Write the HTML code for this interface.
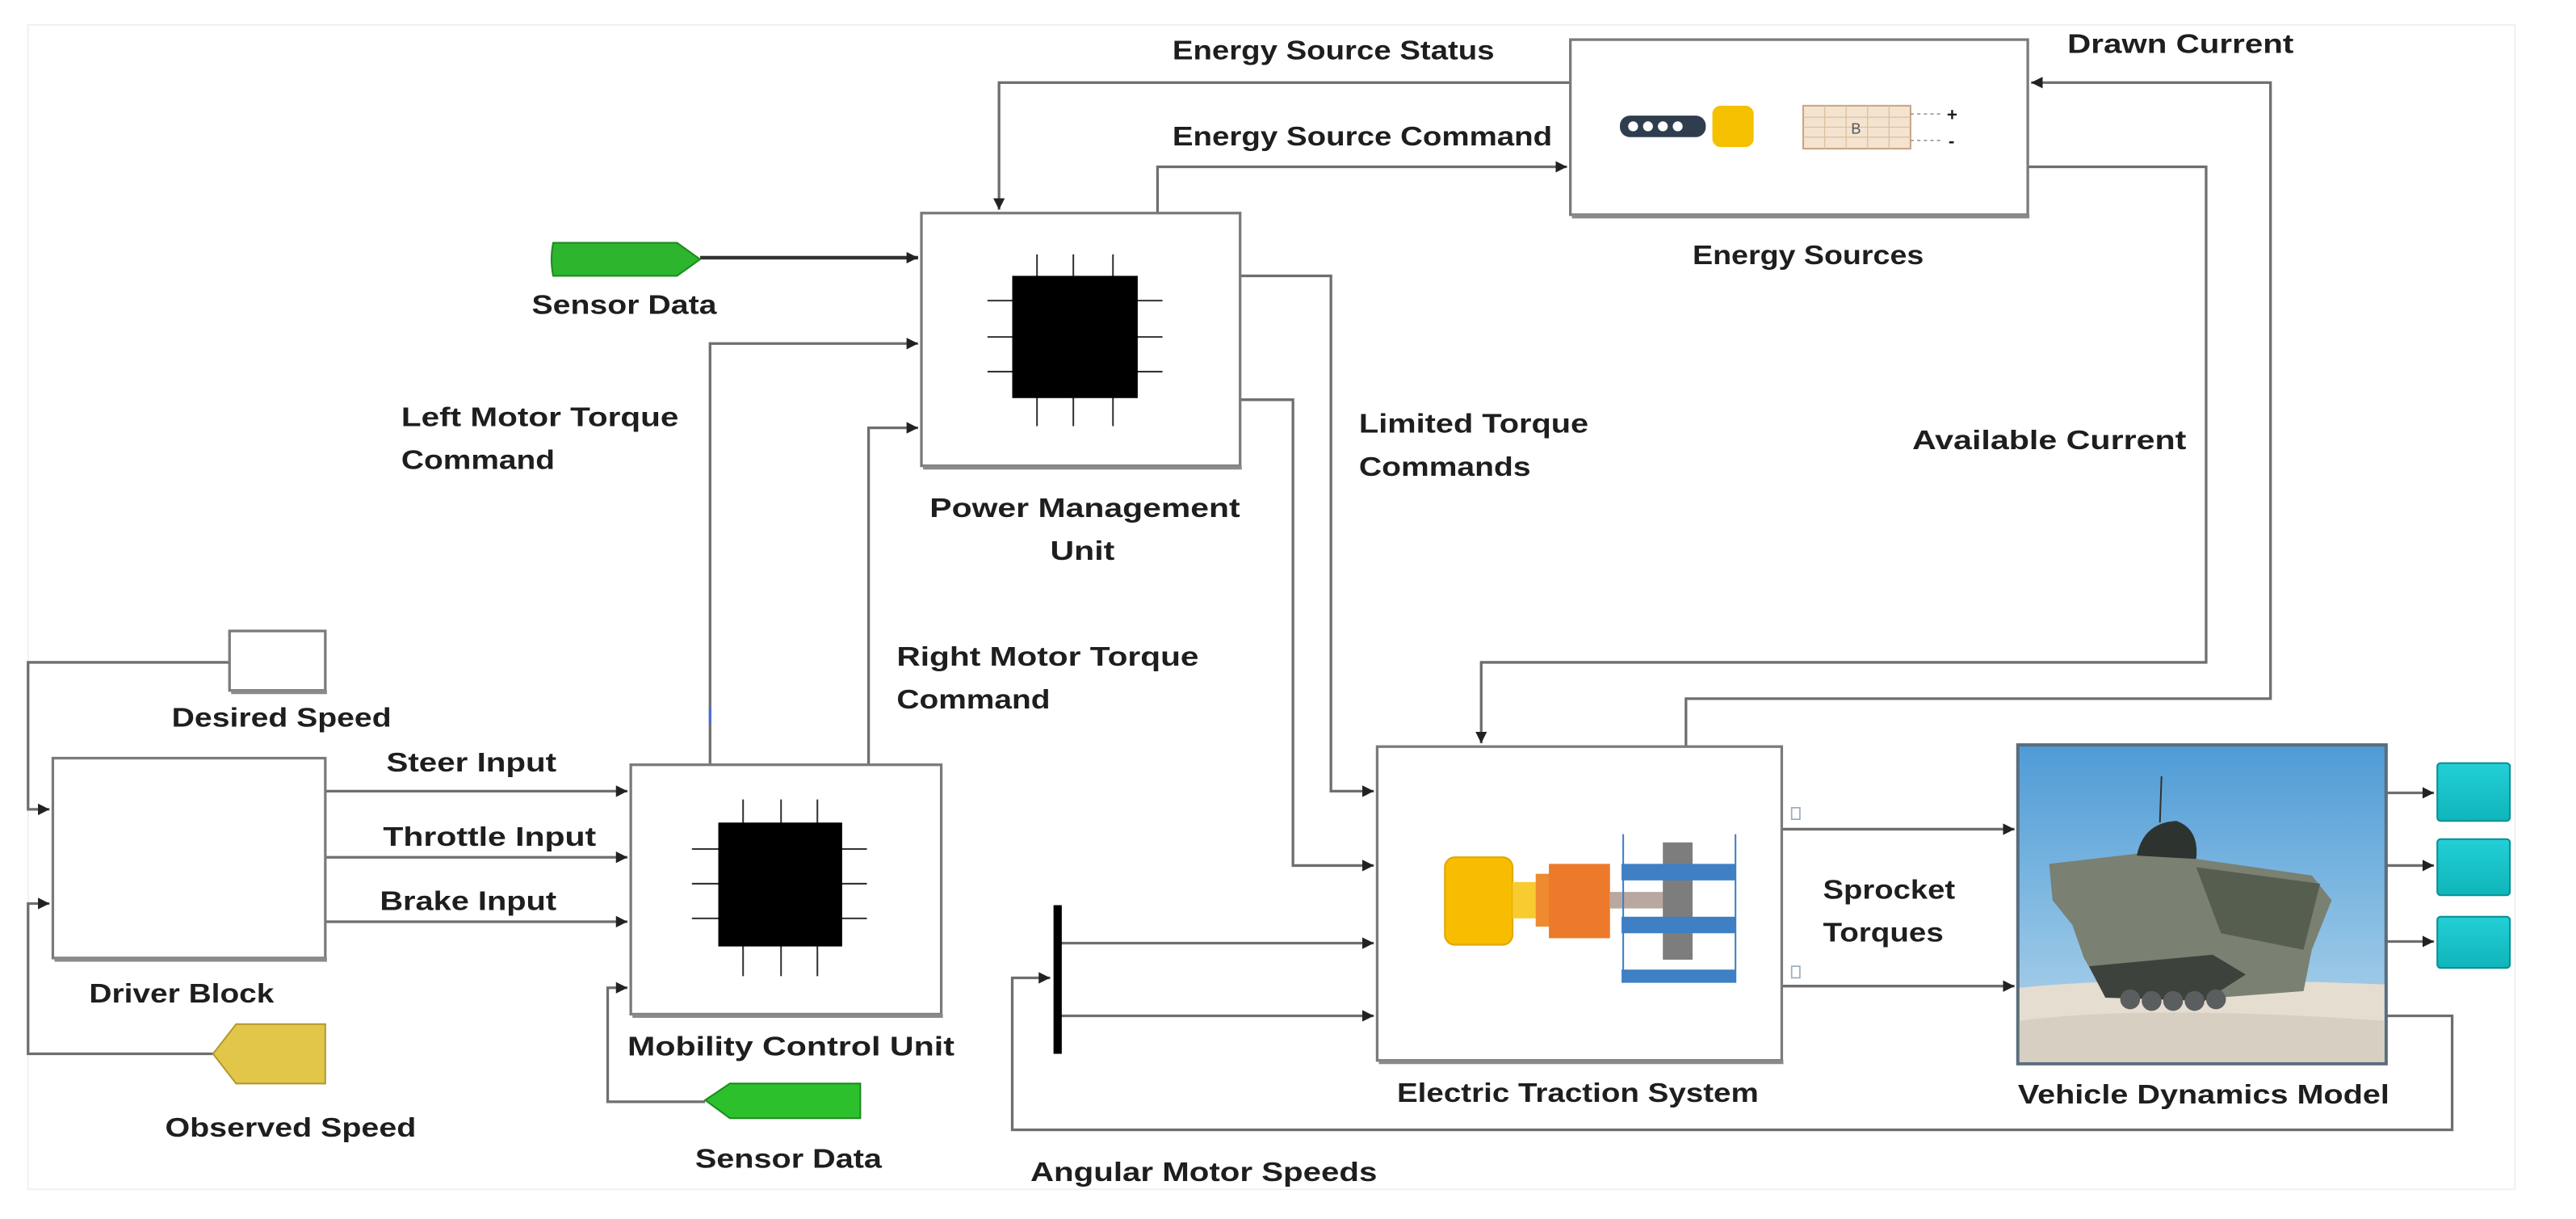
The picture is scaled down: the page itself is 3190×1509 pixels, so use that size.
<!DOCTYPE html>
<html><head><meta charset="utf-8">
<style>
html,body{margin:0;padding:0;background:#fff;}
svg{display:block;}
text{font-family:"Liberation Sans",sans-serif;font-weight:bold;font-size:16.5px;fill:#1e1e1e;}
</style></head>
<body>
<svg width="3190" height="1509" viewBox="0 0 1560 738" preserveAspectRatio="none" xmlns="http://www.w3.org/2000/svg">
<defs>
<marker id="a" markerWidth="8" markerHeight="8" refX="7" refY="4" orient="auto" markerUnits="userSpaceOnUse">
<path d="M0,0.5 L7,4 L0,7.5 z" fill="#222"/></marker>
<linearGradient id="sky" x1="0" y1="0" x2="0" y2="1">
<stop offset="0" stop-color="#4f9bd6"/><stop offset="0.6" stop-color="#8cc0e4"/><stop offset="1" stop-color="#b9d6ea"/></linearGradient>
<linearGradient id="cy" x1="0" y1="0" x2="0" y2="1"><stop offset="0" stop-color="#22d0d6"/><stop offset="1" stop-color="#0fb5ba"/></linearGradient>
</defs>
<rect x="17" y="15" width="1506" height="705" fill="none" stroke="#f0f0f0" stroke-width="1"/>

<g fill="none" stroke="#6e6e6e" stroke-width="1.6">
<polyline points="951,50 605,50 605,127" marker-end="url(#a)"/>
<polyline points="701,129 701,101 949,101" marker-end="url(#a)"/>
<line x1="424" y1="156" x2="556" y2="156" stroke="#333" stroke-width="2.2" marker-end="url(#a)"/>
<polyline points="430,463 430,208 556,208" marker-end="url(#a)"/>
<polyline points="526,463 526,259 556,259" marker-end="url(#a)"/>
<polyline points="751,167 806,167 806,479 832,479" marker-end="url(#a)"/>
<polyline points="751,242 783,242 783,524 832,524" marker-end="url(#a)"/>
<polyline points="1228,101 1336,101 1336,401 897,401 897,450" marker-end="url(#a)"/>
<polyline points="1021,452 1021,423 1375,423 1375,50 1230,50" marker-end="url(#a)"/>
<polyline points="139,401 17,401 17,490 30,490" marker-end="url(#a)"/>
<polyline points="129,638 17,638 17,547 30,547" marker-end="url(#a)"/>
<line x1="197" y1="479" x2="380" y2="479" marker-end="url(#a)"/>
<line x1="197" y1="519" x2="380" y2="519" marker-end="url(#a)"/>
<line x1="197" y1="558" x2="380" y2="558" marker-end="url(#a)"/>
<polyline points="427,667 368,667 368,598 380,598" marker-end="url(#a)"/>
<line x1="642" y1="571" x2="832" y2="571" marker-end="url(#a)"/>
<line x1="642" y1="615" x2="832" y2="615" marker-end="url(#a)"/>
<polyline points="1445,615 1485,615 1485,684 613,684 613,592 636,592" marker-end="url(#a)"/>
<line x1="1079" y1="502" x2="1220" y2="502" marker-end="url(#a)"/>
<line x1="1079" y1="597" x2="1220" y2="597" marker-end="url(#a)"/>
<line x1="1445" y1="480" x2="1474" y2="480" marker-end="url(#a)"/>
<line x1="1445" y1="524" x2="1474" y2="524" marker-end="url(#a)"/>
<line x1="1445" y1="570" x2="1474" y2="570" marker-end="url(#a)"/>
</g>
<line x1="430" y1="428" x2="430" y2="438" stroke="#4a6fd0" stroke-width="1.5"/>
<rect x="1085" y="489" width="5" height="7" fill="none" stroke="#9ab" stroke-width="0.8"/>
<rect x="1085" y="585" width="5" height="7" fill="none" stroke="#9ab" stroke-width="0.8"/>

<g fill="#fff" stroke="#7a7a7a" stroke-width="1.6">
<rect x="558" y="129" width="193" height="153"/>
<rect x="951" y="24" width="277" height="106"/>
<rect x="139" y="382" width="58" height="36"/>
<rect x="32" y="459" width="165" height="121"/>
<rect x="382" y="463" width="188" height="151"/>
<rect x="834" y="452" width="245" height="190"/>
</g>
<g stroke="#8a8a8a" stroke-width="2.5">
<line x1="559" y1="283" x2="752" y2="283"/><line x1="952" y1="131" x2="1229" y2="131"/>
<line x1="140" y1="419" x2="198" y2="419"/><line x1="33" y1="581" x2="198" y2="581"/>
<line x1="383" y1="615" x2="571" y2="615"/><line x1="835" y1="643" x2="1080" y2="643"/>
</g>

<g stroke="#333" stroke-width="1">
<line x1="628" y1="154" x2="628" y2="258"/><line x1="650" y1="154" x2="650" y2="258"/><line x1="674" y1="154" x2="674" y2="258"/>
<line x1="598" y1="182" x2="704" y2="182"/><line x1="598" y1="204" x2="704" y2="204"/><line x1="598" y1="225" x2="704" y2="225"/>
<line x1="450" y1="484" x2="450" y2="591"/><line x1="473" y1="484" x2="473" y2="591"/><line x1="495" y1="484" x2="495" y2="591"/>
<line x1="419" y1="514" x2="525" y2="514"/><line x1="419" y1="535" x2="525" y2="535"/><line x1="419" y1="556" x2="525" y2="556"/>
</g>
<rect x="613" y="167" width="76" height="74" fill="#000"/>
<rect x="435" y="498" width="75" height="75" fill="#000"/>

<path d="M335,147 L410,147 L424,157 L410,167 L335,167 Q333,157 335,147z" fill="#2db52d" stroke="#1f8a1f" stroke-width="1"/>
<path d="M521,656 L442,656 L427,666 L442,677 L521,677z" fill="#2cc12c" stroke="#1f8a1f" stroke-width="1"/>
<path d="M197,620 L143,620 L129,638 L143,656 L197,656z" fill="#e2c64a" stroke="#b09a30" stroke-width="1"/>
<rect x="638" y="548" width="5" height="90" fill="#000"/>

<rect x="981" y="70" width="52" height="13" rx="6" fill="#2f3d4f"/>
<g fill="#fff"><circle cx="989" cy="76.5" r="3"/><circle cx="998" cy="76.5" r="3"/><circle cx="1007" cy="76.5" r="3"/><circle cx="1016" cy="76.5" r="3"/></g>
<rect x="1037" y="64" width="25" height="25" rx="5" fill="#f5c000"/>
<rect x="1092" y="64" width="65" height="26" fill="#f4e3cf" stroke="#c9a583" stroke-width="1"/>
<g stroke="#d9bfa0" stroke-width="0.6"><line x1="1092" y1="71" x2="1157" y2="71"/><line x1="1092" y1="77" x2="1157" y2="77"/><line x1="1092" y1="83" x2="1157" y2="83"/><line x1="1105" y1="64" x2="1105" y2="90"/><line x1="1118" y1="64" x2="1118" y2="90"/><line x1="1131" y1="64" x2="1131" y2="90"/><line x1="1144" y1="64" x2="1144" y2="90"/></g>
<text x="1124" y="81" text-anchor="middle" style="font-size:9px;font-weight:normal;fill:#555">B</text>
<g stroke="#999" stroke-width="0.8" stroke-dasharray="2,2"><line x1="1157" y1="69" x2="1177" y2="69"/><line x1="1157" y1="85" x2="1177" y2="85"/></g>
<text x="1179" y="73" style="font-size:11px">+</text><text x="1180" y="89" style="font-size:11px">-</text>

<rect x="875" y="519" width="41" height="53" rx="6" fill="#f8bd00" stroke="#e0a800"/>
<rect x="916" y="534" width="16" height="22" fill="#f8cc30"/>
<rect x="930" y="529" width="10" height="32" fill="#ee8a30"/>
<rect x="938" y="523" width="37" height="45" fill="#ec7a2a"/>
<rect x="975" y="540" width="34" height="10" fill="#b8a8a0"/>
<rect x="1007" y="510" width="18" height="71" fill="#7d7d7d"/>
<g fill="#3f7fc4"><rect x="982" y="523" width="69" height="10"/><rect x="982" y="555" width="69" height="10"/><rect x="982" y="587" width="69" height="8"/></g>
<g stroke="#3f7fc4" stroke-width="1"><line x1="983" y1="505" x2="983" y2="595"/><line x1="1051" y1="505" x2="1051" y2="595"/></g>

<!-- vehicle picture -->
<rect x="1222" y="451" width="223" height="193" fill="url(#sky)" stroke="#5a6d7d" stroke-width="2"/>
<path d="M1223,598 Q1300,590 1444,596 L1444,643 L1223,643z" fill="#e4ddd0"/>
<path d="M1223,618 Q1300,608 1444,618 L1444,643 L1223,643z" fill="#d6cfc2"/>
<path d="M1241,523 L1310,515 L1330,520 L1400,530 L1412,545 L1400,575 L1395,600 L1330,605 L1275,602 L1262,580 L1255,560 L1243,545z" fill="#7a8072"/>
<path d="M1330,525 L1405,535 L1395,575 L1345,565z" fill="#565e50"/>
<path d="M1265,585 L1340,578 L1360,590 L1335,606 L1275,604z" fill="#3e423c"/>
<path d="M1294,518 Q1298,498 1318,497 Q1332,502 1330,520z" fill="#2d3430"/>
<line x1="1308" y1="498" x2="1309" y2="470" stroke="#333" stroke-width="1"/>
<g fill="#5a5e5f"><circle cx="1290" cy="605" r="6"/><circle cx="1303" cy="606" r="6"/><circle cx="1316" cy="606" r="6"/><circle cx="1329" cy="606" r="6"/><circle cx="1342" cy="605" r="6"/></g>

<rect x="1476" y="462" width="44" height="35" rx="2" fill="url(#cy)" stroke="#0a8f94" stroke-width="1"/>
<rect x="1476" y="508" width="44" height="34" rx="2" fill="url(#cy)" stroke="#0a8f94" stroke-width="1"/>
<rect x="1476" y="555" width="44" height="31" rx="2" fill="url(#cy)" stroke="#0a8f94" stroke-width="1"/>

<text x="710" y="36" textLength="195" lengthAdjust="spacingAndGlyphs">Energy Source Status</text>
<text x="710" y="88" textLength="230" lengthAdjust="spacingAndGlyphs">Energy Source Command</text>
<text x="1252" y="32" textLength="137" lengthAdjust="spacingAndGlyphs">Drawn Current</text>
<text x="1025" y="160" textLength="140" lengthAdjust="spacingAndGlyphs">Energy Sources</text>
<text x="322" y="190" textLength="112" lengthAdjust="spacingAndGlyphs">Sensor Data</text>
<text x="243" y="258" textLength="168" lengthAdjust="spacingAndGlyphs">Left Motor Torque</text>
<text x="243" y="284" textLength="93" lengthAdjust="spacingAndGlyphs">Command</text>
<text x="563" y="313" textLength="188" lengthAdjust="spacingAndGlyphs">Power Management</text>
<text x="636" y="339" textLength="39" lengthAdjust="spacingAndGlyphs">Unit</text>
<text x="823" y="262" textLength="139" lengthAdjust="spacingAndGlyphs">Limited Torque</text>
<text x="823" y="288" textLength="104" lengthAdjust="spacingAndGlyphs">Commands</text>
<text x="1158" y="272" textLength="166" lengthAdjust="spacingAndGlyphs">Available Current</text>
<text x="543" y="403" textLength="183" lengthAdjust="spacingAndGlyphs">Right Motor Torque</text>
<text x="543" y="429" textLength="93" lengthAdjust="spacingAndGlyphs">Command</text>
<text x="104" y="440" textLength="133" lengthAdjust="spacingAndGlyphs">Desired Speed</text>
<text x="234" y="467" textLength="103" lengthAdjust="spacingAndGlyphs">Steer Input</text>
<text x="232" y="512" textLength="129" lengthAdjust="spacingAndGlyphs">Throttle Input</text>
<text x="230" y="551" textLength="107" lengthAdjust="spacingAndGlyphs">Brake Input</text>
<text x="54" y="607" textLength="112" lengthAdjust="spacingAndGlyphs">Driver Block</text>
<text x="380" y="639" textLength="198" lengthAdjust="spacingAndGlyphs">Mobility Control Unit</text>
<text x="100" y="688" textLength="152" lengthAdjust="spacingAndGlyphs">Observed Speed</text>
<text x="421" y="707" textLength="113" lengthAdjust="spacingAndGlyphs">Sensor Data</text>
<text x="624" y="715" textLength="210" lengthAdjust="spacingAndGlyphs">Angular Motor Speeds</text>
<text x="1104" y="544" textLength="80" lengthAdjust="spacingAndGlyphs">Sprocket</text>
<text x="1104" y="570" textLength="73" lengthAdjust="spacingAndGlyphs">Torques</text>
<text x="846" y="667" textLength="219" lengthAdjust="spacingAndGlyphs">Electric Traction System</text>
<text x="1222" y="668" textLength="225" lengthAdjust="spacingAndGlyphs">Vehicle Dynamics Model</text>
</svg>
</body></html>
